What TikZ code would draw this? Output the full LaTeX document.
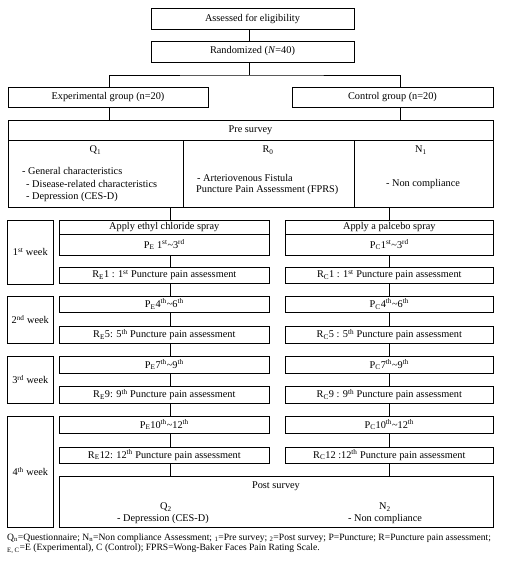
\documentclass[tikz,border=0pt]{standalone}
\usepackage{fontspec}
\setmainfont{Liberation Serif}
\begin{document}
\begin{tikzpicture}[x=1pt,y=-1pt,
  every node/.style={font=\fontsize{10.3}{13}\selectfont, inner sep=0pt},
  box/.style={draw, line width=0.9pt, rectangle},
  ln/.style={line width=0.9pt},
  txt/.style={align=left},
  fn/.style={anchor=west, font=\fontsize{9.6}{10}\selectfont}]
\useasboundingbox (0,0) rectangle (510,563);
\coordinate (xe) at (170.5,0);
\coordinate (xc) at (389,0);
\coordinate (xr) at (400,0);
% top
\node[box, minimum width=203pt, minimum height=21pt] (elig) at (252.5,18.5) {Assessed for eligibility};
\node[box, minimum width=203pt, minimum height=21pt] (rand) at (252.5,51.5) {Randomized (\textit{N}=40)};
\node[box, minimum width=200pt, minimum height=20pt] (exp) at (108,97) {Experimental group (n=20)};
\node[box, minimum width=201pt, minimum height=20pt] (ctrl) at (392.5,97) {Control group (n=20)};
\coordinate (split) at (249,75);
\draw[ln] (elig.south -| split) -- (rand.north -| split);
\draw[ln] (rand.south -| split) -- (split);
\draw[ln] (exp.north -| 109,0) |- (split) -| (ctrl.north -| xr);
% pre survey
\node[box, minimum width=485pt, minimum height=20pt] (pre) at (250.5,130) {Pre survey};
\node[box, minimum width=175pt, minimum height=67pt] (q1) at (95.5,173.5) {};
\node[box, minimum width=171pt, minimum height=67pt] (r0) at (268.5,173.5) {};
\node[box, minimum width=139pt, minimum height=67pt] (n1) at (423.5,173.5) {};
\draw[ln] (exp.south -| 109,0) -- (pre.north -| 109,0);
\draw[ln] (ctrl.south -| xr) -- (pre.north -| xr);
\node (q1t) at (95.5,150) {Q\textsubscript{1}};
\node[txt, anchor=west] (q1a) at (22,171) {- General characteristics};
\node[txt, anchor=west] (q1b) at (26,184) {- Disease-related characteristics};
\node[txt, anchor=west] (q1c) at (26,197) {- Depression (CES-D)};
\node (r0t) at (268,150) {R\textsubscript{0}};
\node[txt, anchor=west] (r0a) at (197,178) {- Arteriovenous Fistula};
\node[txt, anchor=west] (r0b) at (196,190.5) {Puncture Pain Assessment (FPRS)};
\node (n1t) at (421,150) {N\textsubscript{1}};
\node (n1a) at (423,184) {- Non compliance};
% week boxes
\node[box, minimum width=46pt, minimum height=64pt] (w1) at (30.3,252) {1\textsuperscript{st} week};
\node[box, minimum width=46pt, minimum height=47pt] (w2) at (30.3,319.5) {2\textsuperscript{nd} week};
\node[box, minimum width=46pt, minimum height=47pt] (w3) at (30.3,379.5) {3\textsuperscript{rd} week};
\node[box, minimum width=46pt, minimum height=111pt] (w4) at (30.3,471.5) {4\textsuperscript{th} week};
% experimental column
\tikzset{ebox/.style={box, minimum width=210pt}, cbox/.style={box, minimum width=208pt}}
\node[ebox, minimum height=14pt] (aE) at (164.3,227) {Apply ethyl chloride spray};
\node[ebox, minimum height=21pt] (pE1) at (164.3,244.5) {P\textsubscript{E} 1\textsuperscript{st}\textasciitilde 3\textsuperscript{rd}};
\node[ebox, minimum height=16pt] (rE1) at (164.3,275) {R\textsubscript{E}1 : 1\textsuperscript{st} Puncture pain assessment};
\node[ebox, minimum height=16pt] (pE4) at (164.3,304) {P\textsubscript{E}4\textsuperscript{th}\textasciitilde 6\textsuperscript{th}};
\node[ebox, minimum height=17pt] (rE5) at (164.3,334.5) {R\textsubscript{E}5: 5\textsuperscript{th} Puncture pain assessment};
\node[ebox, minimum height=17pt] (pE7) at (164.3,364.5) {P\textsubscript{E}7\textsuperscript{th}\textasciitilde 9\textsuperscript{th}};
\node[ebox, minimum height=17pt] (rE9) at (164.3,394.5) {R\textsubscript{E}9: 9\textsuperscript{th} Puncture pain assessment};
\node[ebox, minimum height=17pt] (pE10) at (164.3,424.5) {P\textsubscript{E}10\textsuperscript{th}\textasciitilde 12\textsuperscript{th}};
\node[ebox, minimum height=16pt] (rE12) at (164.3,455) {R\textsubscript{E}12: 12\textsuperscript{th} Puncture pain assessment};
% control column
\node[cbox, minimum height=14pt] (aC) at (389.3,227) {Apply a palcebo spray};
\node[cbox, minimum height=21pt] (pC1) at (389.3,244.5) {P\textsubscript{C}1\textsuperscript{st}\textasciitilde 3\textsuperscript{rd}};
\node[cbox, minimum height=16pt] (rC1) at (389.3,275) {R\textsubscript{C}1 : 1\textsuperscript{st} Puncture pain assessment};
\node[cbox, minimum height=16pt] (pC4) at (389.3,304) {P\textsubscript{C}4\textsuperscript{th}\textasciitilde 6\textsuperscript{th}};
\node[cbox, minimum height=17pt] (rC5) at (389.3,334.5) {R\textsubscript{C}5 : 5\textsuperscript{th} Puncture pain assessment};
\node[cbox, minimum height=17pt] (pC7) at (389.3,364.5) {P\textsubscript{C}7\textsuperscript{th}\textasciitilde 9\textsuperscript{th}};
\node[cbox, minimum height=17pt] (rC9) at (389.3,394.5) {R\textsubscript{C}9 : 9\textsuperscript{th} Puncture pain assessment};
\node[cbox, minimum height=17pt] (pC10) at (389.3,424.5) {P\textsubscript{C}10\textsuperscript{th}\textasciitilde 12\textsuperscript{th}};
\node[cbox, minimum height=16pt] (rC12) at (389.3,455) {R\textsubscript{C}12 :12\textsuperscript{th} Puncture pain assessment};
% post survey
\node[box, minimum width=433.7pt, minimum height=51pt] (post) at (276.15,501.5) {};
\node (postt) at (276,486) {Post survey};
\node (q2t) at (166,507) {Q\textsubscript{2}};
\node (q2a) at (163,519) {- Depression (CES-D)};
\node (n2t) at (385,507) {N\textsubscript{2}};
\node (n2a) at (385,519) {- Non compliance};
% connectors
\draw[ln] (q1.south -| xe) -- (aE.north -| xe);
\draw[ln] (n1.south -| xc) -- (aC.north -| xc);
\foreach \a/\b in {pE1/rE1, rE1/pE4, pE4/rE5, rE5/pE7, pE7/rE9, rE9/pE10, pE10/rE12, rE12/post}
  \draw[ln] (\a.south -| xe) -- (\b.north -| xe);
\foreach \a/\b in {pC1/rC1, rC1/pC4, pC4/rC5, rC5/pC7, pC7/rC9, rC9/pC10, pC10/rC12, rC12/post}
  \draw[ln] (\a.south -| xc) -- (\b.north -| xc);
% footnote
\node[fn] (fn1) at (7,538) {Q\textsubscript{n}=Questionnaire; N\textsubscript{n}=Non compliance Assessment; \textsubscript{1}=Pre survey; \textsubscript{2}=Post survey; P=Puncture; R=Puncture pain assessment;};
\node[fn] (fn2) at (7,548.5) {\textsubscript{E, C}=E (Experimental), C (Control); FPRS=Wong-Baker Faces Pain Rating Scale.};
\end{tikzpicture}
\end{document}
